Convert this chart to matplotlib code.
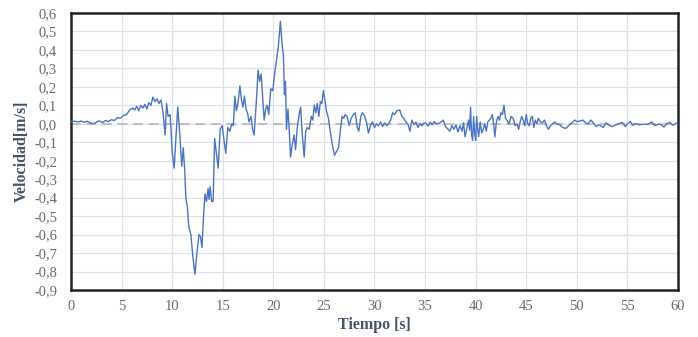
import matplotlib
matplotlib.use("Agg")
import matplotlib.pyplot as plt
from matplotlib.ticker import FuncFormatter

tiempo = [0.0, 0.4, 0.7, 1.0, 1.3, 1.6, 1.9, 2.2, 2.5, 2.8, 3.1, 3.4, 3.7, 4.0, 4.3, 4.6, 4.9, 5.2, 5.5, 5.8,
          6.1, 6.3, 6.5, 6.7, 6.9, 7.1, 7.3, 7.5, 7.7, 7.9, 8.1, 8.3, 8.5, 8.7, 8.9, 9.1, 9.3, 9.45, 9.6, 9.8,
          10.0, 10.2, 10.35, 10.55, 10.75, 10.95, 11.1, 11.25, 11.35, 11.5, 11.65, 11.85, 12.05, 12.25, 12.45,
          12.65, 12.8, 12.95, 13.1, 13.25, 13.4, 13.55, 13.65, 13.75, 13.9, 14.05, 14.2, 14.35, 14.55, 14.75,
          14.95, 15.15, 15.3, 15.5, 15.7, 15.9, 16.05, 16.2, 16.35, 16.5, 16.7, 16.85, 17.0, 17.15, 17.3, 17.45,
          17.6, 17.8, 17.95, 18.1, 18.3, 18.5, 18.65, 18.8, 18.95, 19.1, 19.25, 19.4, 19.55, 19.75, 19.95, 20.15,
          20.35, 20.5, 20.7, 20.85, 21.0, 21.1, 21.2, 21.3, 21.45, 21.6, 21.7, 21.85, 22.05, 22.2, 22.35, 22.55,
          22.7, 22.85, 23.05, 23.2, 23.35, 23.55, 23.75, 23.9, 24.05, 24.2, 24.35, 24.5, 24.65, 24.8, 24.95, 25.1,
          25.25, 25.45, 25.65, 25.85, 26.05, 26.25, 26.45, 26.6, 26.8, 26.95, 27.1, 27.3, 27.5, 27.7, 27.9, 28.1,
          28.3, 28.45, 28.65, 28.8, 29.0, 29.2, 29.4, 29.6, 29.8, 30.0, 30.2, 30.4, 30.6, 30.8, 31.0, 31.2, 31.4,
          31.6, 31.8, 32.0, 32.2, 32.5, 32.7, 32.9, 33.1, 33.3, 33.5, 33.7, 33.9, 34.1, 34.3, 34.5, 34.7, 34.9,
          35.1, 35.3, 35.5, 35.7, 35.9, 36.1, 36.4, 36.6, 36.8, 37.0, 37.2, 37.45, 37.65, 37.85, 38.05, 38.25,
          38.45, 38.65, 38.8, 38.95, 39.15, 39.3, 39.4, 39.5, 39.6, 39.7, 39.8, 39.9, 40.0, 40.1, 40.2, 40.3,
          40.45, 40.6, 40.75, 40.9, 41.05, 41.2, 41.35, 41.5, 41.65, 41.8, 41.9, 42.05, 42.2, 42.35, 42.5, 42.65,
          42.8, 42.95, 43.1, 43.3, 43.5, 43.7, 43.9, 44.1, 44.25, 44.4, 44.55, 44.7, 44.85, 45.0, 45.15, 45.3,
          45.45, 45.6, 45.75, 45.9, 46.05, 46.2, 46.4, 46.6, 46.8, 47.0, 47.2, 47.4, 47.6, 47.8, 48.0, 48.3, 48.6,
          48.9, 49.2, 49.5, 49.8, 50.0, 50.3, 50.6, 50.9, 51.1, 51.4, 51.7, 51.9, 52.2, 52.6, 52.9, 53.2, 53.5,
          53.9, 54.2, 54.5, 54.8, 55.0, 55.3, 55.5, 55.8, 56.2, 56.6, 57.0, 57.4, 57.7, 58.0, 58.3, 58.6, 58.9,
          59.2, 59.5, 59.8, 60.0]

velocidad = [0.012, 0.014, 0.010, 0.015, 0.008, 0.014, 0.004, 0.000, 0.008, 0.016, 0.006, 0.018, 0.012, 0.022,
             0.018, 0.034, 0.030, 0.046, 0.050, 0.075, 0.085, 0.075, 0.095, 0.070, 0.100, 0.085, 0.105, 0.080,
             0.115, 0.100, 0.145, 0.120, 0.135, 0.110, 0.130, 0.060, -0.060, 0.110, 0.040, 0.050, -0.150, -0.240,
             -0.100, 0.090, -0.050, -0.230, -0.130, -0.260, -0.400, -0.450, -0.560, -0.600, -0.720, -0.815, -0.700,
             -0.600, -0.610, -0.670, -0.500, -0.380, -0.420, -0.350, -0.410, -0.340, -0.420, -0.420, -0.080, -0.150,
             -0.240, -0.030, -0.010, -0.100, -0.160, -0.020, -0.040, 0.000, -0.010, 0.150, 0.070, 0.110, 0.205,
             0.130, 0.090, 0.150, 0.080, 0.060, 0.010, 0.040, -0.030, -0.060, 0.100, 0.290, 0.230, 0.270, 0.140,
             0.020, 0.080, 0.100, 0.050, 0.190, 0.180, 0.280, 0.360, 0.420, 0.555, 0.440, 0.370, 0.160, 0.230,
             -0.030, 0.080, -0.060, -0.180, -0.120, -0.060, -0.140, -0.030, 0.050, 0.090, -0.050, -0.180, -0.040,
             -0.020, -0.030, 0.040, 0.020, 0.100, 0.060, 0.110, 0.040, 0.120, 0.110, 0.180, 0.130, 0.070, 0.030,
             -0.050, -0.120, -0.170, -0.150, -0.130, -0.050, 0.040, 0.030, 0.050, 0.040, -0.010, 0.030, 0.050,
             0.060, -0.020, -0.040, 0.040, 0.060, 0.045, 0.010, -0.050, -0.010, 0.010, -0.020, 0.000, -0.010, 0.010,
             -0.015, 0.005, -0.010, 0.000, 0.020, 0.060, 0.050, 0.070, 0.075, 0.040, 0.030, 0.010, 0.000, -0.040,
             0.020, -0.005, 0.010, -0.020, 0.000, -0.010, 0.005, 0.002, -0.012, 0.008, -0.005, 0.012, 0.000, 0.003,
             0.010, 0.020, -0.015, -0.025, -0.040, -0.010, -0.030, -0.005, -0.045, -0.010, -0.040, 0.005, -0.070,
             -0.020, 0.020, -0.035, 0.090, -0.060, -0.090, 0.040, -0.050, -0.090, 0.040, -0.030, -0.070, 0.010,
             -0.050, -0.030, 0.000, -0.040, 0.010, 0.020, 0.030, 0.050, -0.010, -0.070, 0.010, 0.040, 0.020, 0.060,
             0.050, 0.100, 0.030, 0.020, 0.000, 0.040, 0.030, -0.010, 0.000, -0.030, 0.010, 0.040, 0.020, -0.010,
             0.050, 0.000, -0.010, 0.030, 0.040, -0.020, 0.020, 0.000, 0.030, 0.010, 0.005, 0.020, -0.010, -0.030,
             -0.010, 0.000, 0.010, 0.000, -0.005, -0.020, -0.025, -0.010, 0.005, 0.020, 0.012, 0.015, 0.020, 0.005,
             0.000, 0.020, 0.000, -0.015, -0.005, -0.020, 0.005, -0.008, -0.015, -0.005, 0.002, 0.008, -0.015,
             0.000, 0.012, -0.008, 0.000, -0.005, -0.002, -0.003, 0.010, -0.010, -0.003, -0.002, -0.018, 0.000,
             0.008, -0.008, 0.003, 0.008]

x_ticks = list(range(0, 61, 5))
y_ticks = [i / 10 for i in range(-9, 7)]

plt.rcParams['font.family'] = ['Liberation Serif', 'DejaVu Serif']

fig = plt.figure(figsize=(6.98, 3.37), dpi=100)
ax = fig.add_axes([0.1017, 0.1395, 0.8696, 0.8219])

ax.set_xlim(0, 60)
ax.set_ylim(-0.9, 0.6)
ax.set_xticks(x_ticks)
ax.set_yticks(y_ticks)
ax.grid(True, color='#dde1ea', linewidth=0.9)
ax.set_axisbelow(True)

ax.axhline(0, color='#c0c0c0', linewidth=1.4, linestyle=(0, (5, 3)), zorder=1)
ax.plot(tiempo, velocidad, color='#4a74c4', linewidth=1.0, zorder=3)

def fmt(v, pos):
    return f"{v:.1f}".replace('.', ',').replace('-0,0', '0,0')

ax.yaxis.set_major_formatter(FuncFormatter(fmt))
ax.tick_params(axis='both', length=0, labelsize=10.5, labelcolor='#6a6a6a')
ax.tick_params(axis='y', pad=10)
ax.tick_params(axis='x', pad=7)

for s in ax.spines.values():
    s.set_color('#222222')
    s.set_linewidth(1.8)

ax.set_xlabel('Tiempo [s]', fontsize=11.5, fontweight='bold', color='#44546a', labelpad=3)
ax.set_ylabel('Velocidad[m/s]', fontsize=11.5, fontweight='bold', color='#44546a', labelpad=3)

fig.savefig('out.png', dpi=100)
